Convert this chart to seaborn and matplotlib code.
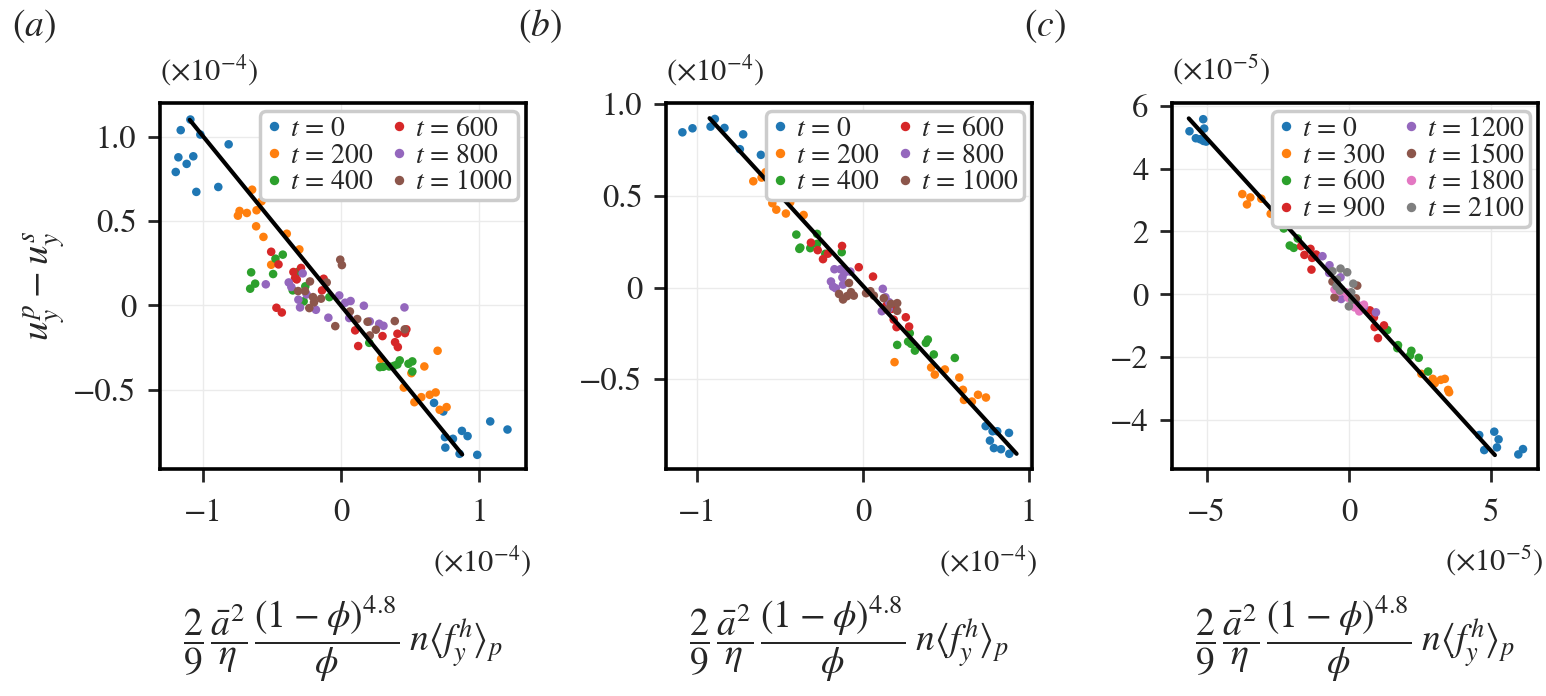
import numpy as np
import pandas as pd
import matplotlib
matplotlib.use("Agg")
import matplotlib.pyplot as plt
import seaborn as sns

# values, panels (a),(b) in units of 1e-4, panel (c) in 1e-5

# ---- panel (a)
a_times = [0, 200, 400, 600, 800, 1000]
a_x = [
    [-1.090, -1.160, -1.018, -0.813, -1.177, -1.069, -1.117, -1.196, -1.047, -0.888,
     0.674, 0.741, 0.753, 0.811, 0.756, 0.876, 0.917, 0.859, 0.987, 1.081, 1.206],
    [-0.643, -0.575, -0.611, -0.734, -0.746, -0.681, -0.614, -0.561, -0.392, -0.301, -0.505,
     0.700, 0.604, 0.510, 0.291, 0.455, 0.532, 0.582, 0.643, 0.686, 0.715, 0.765],
    [-0.474, -0.421, -0.650, -0.491, -0.621, -0.657, -0.349, -0.258, -0.270, -0.084, -0.313,
     0.205, 0.282, 0.306, 0.385, 0.409, 0.426, 0.489, 0.517, 0.517, 0.349],
    [-0.505, -0.452, -0.344, -0.289, -0.332, -0.320, -0.125, -0.137, -0.467, -0.428,
     0.103, 0.125, 0.301, 0.409, 0.464, 0.474, 0.392, 0.412],
    [-0.544, -0.378, -0.359, -0.277, -0.308, -0.296, -0.248, -0.181, -0.091, -0.012,
     0.031, 0.070, 0.166, 0.060, 0.209, 0.277, 0.308, 0.460],
    [-0.005, 0.007, -0.224, -0.310, -0.260, -0.202, -0.195, -0.144, -0.229, -0.103,
     -0.041, 0.065, 0.118, 0.193, 0.253, 0.390, 0.462, 0.209],
]
a_y = [
    [1.102, 1.039, 1.013, 0.955, 0.878, 0.884, 0.839, 0.791, 0.673, 0.702,
     -0.578, -0.629, -0.781, -0.791, -0.843, -0.744, -0.775, -0.880, -0.886, -0.688, -0.736],
    [0.686, 0.617, 0.564, 0.560, 0.532, 0.548, 0.469, 0.406, 0.425, 0.332, 0.241,
     -0.269, -0.362, -0.402, -0.317, -0.487, -0.574, -0.544, -0.530, -0.516, -0.619, -0.603],
    [0.277, 0.301, 0.196, 0.186, 0.129, 0.099, 0.089, 0.113, 0.024, 0.049, 0.198,
     -0.222, -0.366, -0.364, -0.358, -0.350, -0.326, -0.346, -0.332, -0.392, -0.362],
    [0.318, 0.243, 0.198, 0.222, 0.162, 0.154, 0.158, 0.089, -0.014, -0.042,
     -0.148, -0.241, -0.182, -0.168, -0.164, -0.142, -0.218, -0.247],
    [0.125, 0.136, 0.109, 0.190, 0.034, -0.012, 0.065, -0.026, -0.073, 0.059,
     0.016, 0.026, -0.002, -0.075, -0.095, -0.109, -0.121, -0.012],
    [0.271, 0.239, 0.142, 0.085, 0.085, 0.049, 0.018, 0.040, -0.016, 0.136,
     -0.123, -0.036, -0.081, -0.097, -0.144, -0.093, -0.142, -0.178],
]
a_fit_x = [-1.095, 0.878]
a_fit_y = [1.100, -0.884]

# ---- panel (b)
b_times = [0, 200, 400, 600, 800, 1000]
b_x = [
    [-1.091, -1.030, -0.921, -0.895, -0.837, -0.724, -0.744, -0.617,
     0.740, 0.782, 0.810, 0.766, 0.790, 0.833, 0.881, 0.883],
    [-0.589, -0.613, -0.663, -0.532, -0.548, -0.524, -0.440, -0.466, -0.359,
     0.190, 0.411, 0.433, 0.494, 0.581, 0.603, 0.609, 0.657, 0.694, 0.742],
    [-0.403, -0.278, -0.385, -0.379, -0.319, -0.278, -0.228, -0.129,
     0.206, 0.272, 0.290, 0.313, 0.379, 0.391, 0.427, 0.554, 0.282],
    [-0.315, -0.274, -0.242, -0.212, -0.127, -0.026, 0.060, 0.141, 0.185, 0.202, 0.258, 0.278, 0.175],
    [-0.173, -0.137, -0.113, -0.077, -0.125, -0.194, -0.181, -0.165, -0.121,
     0.119, 0.135, 0.157, 0.113, 0.155],
    [-0.145, -0.121, -0.097, -0.073, -0.056, -0.085, 0.018, 0.044, 0.065,
     0.125, 0.169, 0.206, 0.206, 0.145],
]
b_y = [
    [0.847, 0.869, 0.878, 0.920, 0.871, 0.836, 0.755, 0.724,
     -0.756, -0.784, -0.784, -0.835, -0.876, -0.882, -0.793, -0.907],
    [0.629, 0.600, 0.580, 0.511, 0.460, 0.425, 0.465, 0.404, 0.396,
     -0.407, -0.436, -0.475, -0.447, -0.491, -0.558, -0.613, -0.622, -0.585, -0.600],
    [0.289, 0.293, 0.211, 0.218, 0.215, 0.238, 0.184, 0.193,
     -0.313, -0.295, -0.307, -0.344, -0.302, -0.284, -0.365, -0.384, -0.249],
    [0.245, 0.204, 0.155, 0.185, 0.227, 0.111, 0.060, -0.098, -0.175, -0.216, -0.162, -0.213, -0.116],
    [0.100, 0.100, 0.080, 0.087, 0.055, 0.033, 0.005, -0.004, 0.016,
     -0.007, -0.053, -0.080, -0.129, -0.116],
    [-0.035, -0.065, -0.047, -0.025, -0.044, 0.025, -0.031, -0.020, -0.044,
     -0.058, -0.089, -0.085, -0.127, -0.120],
]
b_fit_x = [-0.927, 0.927]
b_fit_y = [0.924, -0.907]

# ---- panel (c)
c_times = [0, 300, 600, 900, 1200, 1500, 1800, 2100]
c_x = [
    [-5.605, -5.382, -5.229, -5.112, -5.018, -5.123, -5.088,
     4.583, 4.759, 5.112, 5.206, 5.264, 5.958, 6.122],
    [-3.748, -3.466, -3.584, -3.079, -2.750, -2.515,
     2.550, 2.949, 3.020, 3.231, 3.373, 3.490, 3.525],
    [-2.291, -2.080, -1.939, -1.798, 1.351, 1.704, 1.727, 2.150, 2.197, 2.456, 2.785],
    [-1.680, -1.563, -1.351, -1.293, -1.316, -1.152, 0.740, 0.881, 0.905, 1.022, 1.234],
    [-0.928, -0.682, -0.693, -0.294, -0.270, 0.035, 0.294, 0.529, 0.952],
    [-0.576, -0.505, -0.411, 0.294, -0.270, 0.247],
    [-0.505, -0.317, -0.106, 0.153, 0.364, 0.529, 0.200, -0.035],
    [-0.576, -0.294, -0.059, -0.435, -0.317, 0.153, 0.082, 0.000, 0.118, -0.411],
]
c_y = [
    [5.191, 4.968, 4.936, 4.883, 4.862, 5.574, 5.277,
     -4.479, -4.957, -4.372, -4.872, -4.617, -5.096, -4.926],
    [3.191, 3.085, 2.862, 3.043, 2.564, 2.309,
     -2.532, -2.691, -2.830, -2.723, -2.691, -3.043, -3.117],
    [2.096, 1.553, 1.479, 1.777, -1.138, -1.713, -1.617, -1.947, -1.798, -2.021, -2.457],
    [1.532, 1.255, 1.447, 1.160, 0.787, 1.266, -0.511, -0.734, -1.043, -1.394, -0.989],
    [1.213, 0.926, 0.681, 0.543, -0.149, 0.043, -0.330, -0.404, -0.574],
    [0.404, -0.096, 0.298, 0.277, 0.149, -0.128],
    [0.149, 0.085, 0.064, -0.277, -0.543, -0.330, -0.415, -0.106],
    [0.734, 0.819, 0.702, 0.255, 0.117, 0.340, 0.064, -0.383, -0.170, 0.468],
]
c_fit_x = [-5.63, 5.135]
c_fit_y = [5.600, -5.117]

# ticks and labels
ab_xticks = [-1, 0, 1]
ab_xticklabels = ["\u22121", "0", "1"]
ab_yticks = [-0.5, 0, 0.5, 1.0]
ab_yticklabels = ["\u22120.5", "0", "0.5", "1.0"]
c_xticks = [-5, 0, 5]
c_xticklabels = ["\u22125", "0", "5"]
c_yticks = [-4, -2, 0, 2, 4, 6]
c_yticklabels = ["\u22124", "\u22122", "0", "2", "4", "6"]

# operators in braces + explicit spaces so the spacing does not depend on mathtext state
xlabel = (r"$\dfrac{2}{9}\,\dfrac{\bar{a}^2}{\eta}\,\dfrac{(1\;{-}\;\phi)^{4.8}}{\phi}"
          r"\;n\langle f_y^h\rangle_p$")
ylabel = r"$u_y^p\:{-}\:u_y^s$"

sns.set_style("ticks")
plt.rcParams["font.family"] = "serif"
plt.rcParams["font.serif"] = ["STIXGeneral", "Liberation Serif", "DejaVu Serif"]
plt.rcParams["mathtext.fontset"] = "stix"
plt.rcParams["axes.unicode_minus"] = True

W, H = 1546, 696
fig = plt.figure(figsize=(W / 100, H / 100), dpi=100)
pal = sns.color_palette("tab10")


def draw_panel(left_px, times, xs, ys, fit_x, fit_y, xlim, ylim,
               xt, xtl, yt, ytl, expo, tag):
    ax = fig.add_axes([left_px / W, (H - 469) / H, 366 / W, 366 / H])
    rows = []
    for t, xv, yv in zip(times, xs, ys):
        for xx, yy in zip(xv, yv):
            rows.append({"x": xx, "y": yy, "t": f"$t$ = {t}"})
    df = pd.DataFrame(rows)
    order = [f"$t$ = {t}" for t in times]
    ax.grid(True, color="0.92", lw=1.0)
    ax.set_axisbelow(True)
    sns.scatterplot(data=df, x="x", y="y", hue="t", hue_order=order,
                    palette=pal[:len(times)], s=38, linewidth=0, ax=ax, zorder=3)
    ax.plot(fit_x, fit_y, color="black", lw=3.0, zorder=4)
    ax.set_xlim(xlim)
    ax.set_ylim(ylim)
    ax.set_xticks(xt, xtl)
    ax.set_yticks(yt, ytl)
    ax.tick_params(labelsize=23.5, length=9, width=2.0, direction="out")
    ax.tick_params(axis="x", pad=12)
    ax.tick_params(axis="y", pad=8)
    for sp in ax.spines.values():
        sp.set_linewidth(2.6)
        sp.set_color("black")
    old = ax.get_legend()
    handles = old.legend_handles
    labels = [tx.get_text() for tx in old.get_texts()]
    old.remove()
    ax.legend(handles, labels, ncol=2, loc="upper right", fontsize=20,
              labelspacing=0.05, handletextpad=0.3, handlelength=0.6,
              columnspacing=0.6, borderpad=0.18, borderaxespad=0.3,
              markerscale=1.1, framealpha=1.0, edgecolor="0.8", fancybox=True)
    ax.get_legend().get_frame().set_linewidth(2.5)
    ax.set_ylabel("")
    ax.set_xlabel(xlabel, fontsize=27, va="center")
    ax.xaxis.set_label_coords(0.5, -0.465)
    ax.text(0.0, 1.09, rf"$(\times 10^{{{expo}}})$", transform=ax.transAxes,
            ha="left", va="center", fontsize=22)
    ax.text(1.015, -0.251, rf"$(\times 10^{{{expo}}})$", transform=ax.transAxes,
            ha="right", va="center", fontsize=22)
    fig.text((left_px - 148) / W, 1 - 26 / H, rf"$({tag})$", fontsize=27,
             ha="left", va="center")
    return ax


ax_a = draw_panel(160, a_times, a_x, a_y, a_fit_x, a_fit_y, (-1.31, 1.34), (-0.97, 1.20),
                  ab_xticks, ab_xticklabels, ab_yticks, ab_yticklabels, "-4", "a")
ax_a.set_ylabel(ylabel, fontsize=28)
draw_panel(666, b_times, b_x, b_y, b_fit_x, b_fit_y, (-1.19, 1.02), (-0.99, 1.007),
           ab_xticks, ab_xticklabels, ab_yticks, ab_yticklabels, "-4", "b")
draw_panel(1172, c_times, c_x, c_y, c_fit_x, c_fit_y, (-6.22, 6.65), (-5.56, 6.09),
           c_xticks, c_xticklabels, c_yticks, c_yticklabels, "-5", "c")

fig.savefig("out.png", dpi=100)
